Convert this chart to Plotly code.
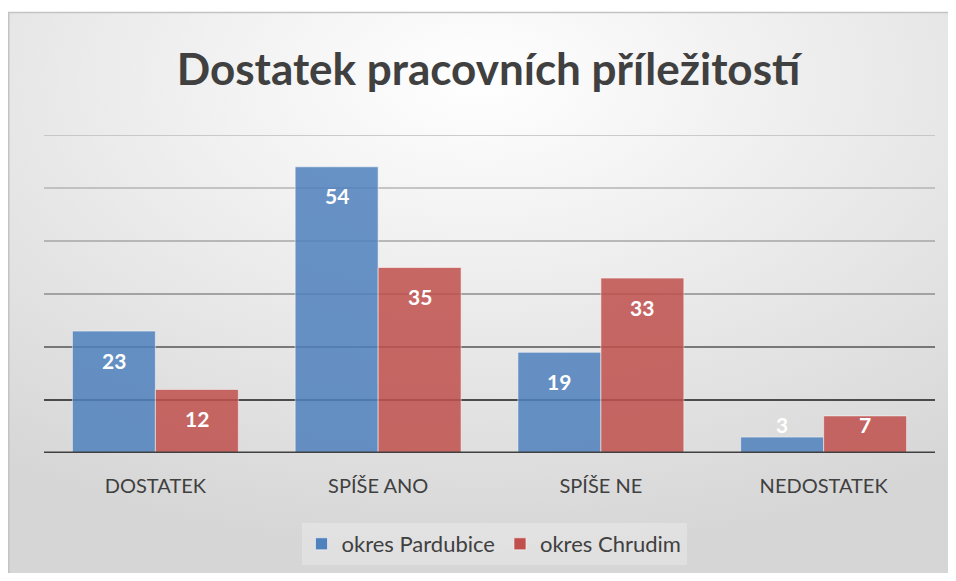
import base64
import plotly.graph_objects as go

categories = ["DOSTATEK", "SPÍŠE ANO", "SPÍŠE NE", "NEDOSTATEK"]
pardubice = [23, 54, 19, 3]
chrudim = [12, 35, 33, 7]
series_names = ["okres Pardubice", "okres Chrudim"]
y_ticks = [0, 10, 20, 30, 40, 50, 60]

W, H = 940, 565
ML, MT, PW, PH = 36, 127, 891, 318
MR = W - ML - PW
MB = H - MT - PH

FONT = "Lato"
TXT = "#404040"

fig = go.Figure()
fig.add_bar(x=categories, y=pardubice, name=series_names[0],
            marker=dict(color="#4F81BD", opacity=0.85,
                        line=dict(color="rgba(255,255,255,0.55)", width=1)))
fig.add_bar(x=categories, y=chrudim, name=series_names[1],
            marker=dict(color="#C0504D", opacity=0.85,
                        line=dict(color="rgba(255,255,255,0.55)", width=1)))

# background radial gradient (svg data uri)
svg = (
    '<svg xmlns="http://www.w3.org/2000/svg" width="1000" height="600" preserveAspectRatio="none">'
    '<defs><radialGradient id="g" cx="50%" cy="12%" r="85%" fx="50%" fy="12%">'
    '<stop offset="0%" stop-color="#ffffff"/>'
    '<stop offset="100%" stop-color="#d6d6d6"/>'
    '</radialGradient></defs>'
    '<rect width="1000" height="600" fill="url(#g)"/></svg>'
)
uri = "data:image/svg+xml;base64," + base64.b64encode(svg.encode()).decode()
bx0, bx1 = (0.75 - ML) / PW, (W - ML) / PW
by1, by0 = (MT + PH - 4.5) / PH, (MT + PH - H) / PH
fig.add_layout_image(source=uri, xref="paper", yref="paper", x=bx0, y=by1,
                     sizex=bx1 - bx0, sizey=by1 - by0, sizing="stretch",
                     xanchor="left", yanchor="top", layer="below")
# border only on left and top
fig.add_shape(type="path", xref="paper", yref="paper",
              path=f"M {bx0},{by0} L {bx0},{by1} L {bx1 + 0.05},{by1}",
              line=dict(color="#c3c3c3", width=1.5), layer="below")

# gridlines with graded colours
grid_cols = ["#1a1a1a", "#555555", "#8c8c8c", "#a6a6a6", "#b4b4b4", "#bdbdbd"]
for t, c in zip(y_ticks[1:], grid_cols):
    fig.add_shape(type="line", xref="paper", yref="y", x0=0, x1=1, y0=t, y1=t,
                  line=dict(color=c, width=1.5), layer="below")
fig.add_shape(type="line", xref="paper", yref="y", x0=0, x1=1, y0=0, y1=0,
              line=dict(color="#404040", width=3), layer="above")

# data labels
off = 29 / PH * (y_ticks[-1] - y_ticks[0])
for vals, dx in ((pardubice, -41.5), (chrudim, 41.5)):
    for cat, v in zip(categories, vals):
        fig.add_annotation(x=cat, y=max(v - off, off), xref="x", yref="y", text=str(v),
                           showarrow=False, xshift=dx, yanchor="middle",
                           font=dict(family=FONT, size=21, color="white", weight="bold"))

fig.update_layout(
    width=W, height=H, margin=dict(l=ML, r=MR, t=MT, b=MB, autoexpand=False),
    paper_bgcolor="rgba(255,255,255,0)", plot_bgcolor="rgba(0,0,0,0)",
    barmode="group", bargap=0.255, bargroupgap=0,
    title=dict(text="Dostatek pracovních příležitostí", xref="paper",
               x=(488.5 - 8 - ML) / PW, xanchor="center",
               y=1 - 62 / H, yanchor="middle",
               font=dict(family=FONT, size=44, color=TXT, weight="bold")),
    xaxis=dict(showgrid=False, showline=False, zeroline=False, ticks="",
               ticklabelstandoff=19, automargin=False,
               tickfont=dict(family=FONT, size=20, color=TXT)),
    yaxis=dict(range=[y_ticks[0], y_ticks[-1]], showgrid=False, zeroline=False,
               showticklabels=False, tickvals=y_ticks, automargin=False),
    legend=dict(orientation="h", x=(494 - 8 - ML) / PW, xanchor="center",
                y=(MT + PH - 536) / PH,
                yanchor="middle", bgcolor="rgba(255,255,255,0.25)",
                font=dict(family=FONT, size=22, color=TXT), itemwidth=30),
    showlegend=True,
)
fig.write_html("out.html")
